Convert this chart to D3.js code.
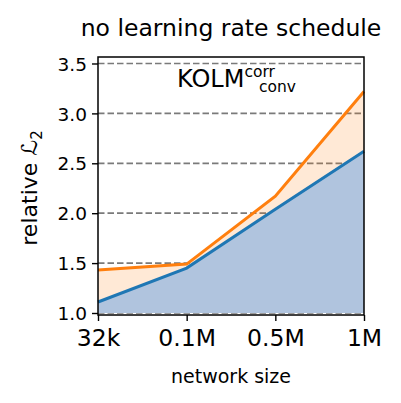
<!DOCTYPE html>
<html>
<head>
<meta charset="utf-8">
<script src="https://cdn.jsdelivr.net/npm/d3@7"></script>
<style>
  body { margin: 0; background: #fff; }
  text { font-family: "DejaVu Sans", sans-serif; fill: #000; }
</style>
</head>
<body>
<div id="chart"></div>
<script>
// data
var sizes = ["32k", "0.1M", "0.5M", "1M"];
var blueVals = [1.11, 1.45, 2.04, 2.62];     // lower line, filled from 1.0
var orangeVals = [1.43, 1.49, 2.17, 3.22];   // upper line
var yTicks = [1.0, 1.5, 2.0, 2.5, 3.0, 3.5];

var W = 401, H = 403;
var axL = 98, axR = 364, axT = 57, axB = 315;

var svg = d3.select("#chart").append("svg")
    .attr("width", W).attr("height", H);

var x = d3.scalePoint().domain(sizes).range([axL, axR]);
var y = d3.scaleLinear().domain([0.98, 3.565]).range([axB, axT]);

// grid
svg.append("g").selectAll("line")
    .data(yTicks)
    .enter().append("line")
    .attr("x1", axL).attr("x2", axR)
    .attr("y1", function (d) { return y(d); })
    .attr("y2", function (d) { return y(d); })
    .attr("stroke", "#7a7a7a")
    .attr("stroke-width", 1.7)
    .attr("stroke-dasharray", "6.5,3");

var pts = sizes.map(function (s, i) { return { s: s, b: blueVals[i], o: orangeVals[i] }; });

// gap between the two lines
svg.append("path")
    .datum(pts)
    .attr("fill", "#ff7f0e")
    .attr("fill-opacity", 0.17)
    .attr("d", d3.area()
        .x(function (d) { return x(d.s); })
        .y0(function (d) { return y(d.b); })
        .y1(function (d) { return y(d.o); }));

// under the lower line
svg.append("path")
    .datum(pts)
    .attr("fill", "#b0c4de")
    .attr("d", d3.area()
        .x(function (d) { return x(d.s); })
        .y0(y(1.0))
        .y1(function (d) { return y(d.b); }));

var line = d3.line().x(function (d) { return x(d.s); });

svg.append("path")
    .datum(pts)
    .attr("fill", "none")
    .attr("stroke", "#ff7f0e")
    .attr("stroke-width", 3)
    .attr("d", line.y(function (d) { return y(d.o); }));

svg.append("path")
    .datum(pts)
    .attr("fill", "none")
    .attr("stroke", "#1f77b4")
    .attr("stroke-width", 3)
    .attr("d", line.y(function (d) { return y(d.b); }));

// axes
var xAxis = svg.append("g")
    .attr("transform", "translate(0," + axB + ")")
    .call(d3.axisBottom(x).tickSize(6).tickPadding(5));
var yAxis = svg.append("g")
    .attr("transform", "translate(" + axL + ",0)")
    .call(d3.axisLeft(y).tickValues(yTicks).tickFormat(d3.format(".1f")).tickSize(6).tickPadding(5));

[xAxis, yAxis].forEach(function (g) {
  g.select(".domain").remove();
  g.selectAll(".tick line").attr("stroke", "#000").attr("stroke-width", 1.4);
  g.selectAll(".tick text").style("font-family", "DejaVu Sans");
});
xAxis.selectAll(".tick text").style("font-size", "23.5px").attr("dy", "0.85em");
yAxis.selectAll(".tick text").style("font-size", "18.5px").attr("dy", "0.36em");

// frame
svg.append("rect")
    .attr("x", axL).attr("y", axT)
    .attr("width", axR - axL).attr("height", axB - axT)
    .attr("fill", "none").attr("stroke", "#000").attr("stroke-width", 1.5);

// texts
svg.append("text")
    .attr("x", (axL + axR) / 2).attr("y", 36)
    .attr("text-anchor", "middle")
    .style("font-size", "23.5px")
    .text("no learning rate schedule");

svg.append("text")
    .attr("x", (axL + axR) / 2).attr("y", 383)
    .attr("text-anchor", "middle")
    .style("font-size", "19px")
    .text("network size");

var yl = svg.append("text")
    .attr("transform", "translate(37,188) rotate(-90)")
    .attr("text-anchor", "middle")
    .style("font-size", "22px");
yl.append("tspan").text("relative ");
yl.append("tspan").style("font-style", "italic").text("\u2112");
yl.append("tspan").attr("dy", 5).style("font-size", "15px").text("2");

var lab = svg.append("text")
    .attr("x", 177).attr("y", 87)
    .style("font-size", "24px");
lab.append("tspan").text("KOLM");
lab.append("tspan").attr("dy", -10).style("font-size", "15.5px").text("corr");
lab.append("tspan").attr("x", 259).attr("dy", 15).style("font-size", "15.5px").text("conv");
</script>
</body>
</html>
